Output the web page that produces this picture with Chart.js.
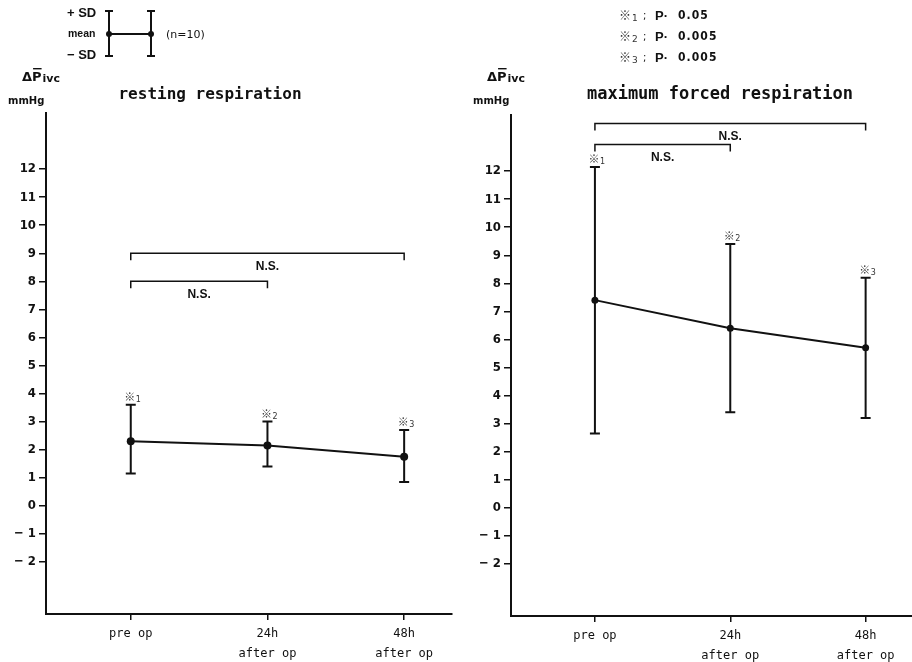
<!DOCTYPE html>
<html>
<head>
<meta charset="utf-8">
<script src="https://cdn.jsdelivr.net/npm/chart.js@4.4.0/dist/chart.umd.min.js"></script>
<style>
html, body { margin: 0; padding: 0; background: #fff; overflow: hidden; }
#wrap { position: relative; width: 912px; height: 662px; overflow: hidden; }
.pane { position: absolute; top: 0; height: 662px; }
</style>
</head>
<body>
<div id="wrap">
  <div class="pane" style="left:0;width:456px"><canvas id="rest"></canvas></div>
  <div class="pane" style="left:456px;width:461px"><canvas id="forced"></canvas></div>
</div>
<script>
// data (mmHg)
var timeLabels = [['pre op'], ['24h', 'after op'], ['48h', 'after op']];
var yTicks = [-2, -1, 0, 1, 2, 3, 4, 5, 6, 7, 8, 9, 10, 11, 12];
var restMean = [2.3, 2.15, 1.75];
var restUpper = [3.6, 3.0, 2.7];
var restLower = [1.15, 1.4, 0.85];
var forcedMean = [7.4, 6.4, 5.7];
var forcedUpper = [12.15, 9.4, 8.2];
var forcedLower = [2.65, 3.4, 3.2];
var sigMarks = ['1', '2', '3'];
var pLevels = ['0.05', '0.005', '0.005'];
var restBrackets = [{ from: 0, to: 2, level: 9, label: 'N.S.' }, { from: 0, to: 1, level: 8, label: 'N.S.' }];
var forcedBrackets = [{ from: 0, to: 2, level: 13.7, label: 'N.S.' }, { from: 0, to: 1, level: 12.95, label: 'N.S.' }];

var INK = '#111';
var NUMFONT = '"Liberation Sans Narrow", "DejaVu Sans Condensed", "Liberation Sans", sans-serif';
var MONO = '"DejaVu Sans Mono", "Liberation Mono", monospace';

function unitLabel(ctx, x, y) {
  ctx.font = 'bold 13px "DejaVu Sans", sans-serif';
  ctx.textAlign = 'left';
  ctx.textBaseline = 'middle';
  ctx.fillText('Δ', x, y);
  var w = ctx.measureText('Δ').width;
  ctx.fillText('P', x + w, y);
  var pw = ctx.measureText('P').width;
  ctx.fillRect(x + w + 1, y - 10, pw - 1, 1.4);
  ctx.font = 'bold 11px "DejaVu Sans", sans-serif';
  ctx.fillText('ivc', x + w + pw + 1, y + 1);
  ctx.font = 'bold 10px "DejaVu Sans", sans-serif';
  ctx.fillText('mmHg', x - 14, y + 23);
}

function sigMark(ctx, x, y, n, big) {
  ctx.fillStyle = '#333';
  ctx.font = (big ? 12 : 11) + 'px "Noto Sans CJK JP", sans-serif';
  ctx.textAlign = 'center';
  ctx.textBaseline = 'alphabetic';
  ctx.fillText('※', x, y);
  ctx.font = (big ? 9 : 8) + 'px "DejaVu Sans", sans-serif';
  ctx.textAlign = 'left';
  ctx.fillText(n, x + (big ? 7 : 6), y + 1);
}

var deco = {
  id: 'deco',
  beforeDatasetsDraw: function(chart, args, o) {
    var ctx = chart.ctx, xs = chart.scales.x, ys = chart.scales.y;
    ctx.save();
    ctx.strokeStyle = INK;
    ctx.lineWidth = 2;
    o.upper.forEach(function(u, i) {
      var x = xs.getPixelForValue(i);
      var yt = ys.getPixelForValue(u), yb = ys.getPixelForValue(o.lower[i]);
      ctx.beginPath();
      ctx.moveTo(x, yt); ctx.lineTo(x, yb);
      ctx.moveTo(x - 5, yt); ctx.lineTo(x + 5, yt);
      ctx.moveTo(x - 5, yb); ctx.lineTo(x + 5, yb);
      ctx.stroke();
      sigMark(ctx, x - 1, yt - 4, sigMarks[i], false);
    });
    ctx.lineWidth = 1.5;
    ctx.strokeStyle = INK;
    ctx.fillStyle = INK;
    o.brackets.forEach(function(b) {
      var x1 = xs.getPixelForValue(b.from), x2 = xs.getPixelForValue(b.to);
      var y = ys.getPixelForValue(b.level);
      ctx.beginPath();
      ctx.moveTo(x1, y + 7); ctx.lineTo(x1, y); ctx.lineTo(x2, y); ctx.lineTo(x2, y + 7);
      ctx.stroke();
      ctx.font = 'bold 12px "Liberation Sans", sans-serif';
      ctx.textAlign = 'center';
      ctx.textBaseline = 'middle';
      ctx.fillText(b.label, (x1 + x2) / 2, y + 13);
    });
    ctx.restore();
  },
  afterDraw: function(chart, args, o) {
    var ctx = chart.ctx, left = chart.chartArea.left;
    ctx.save();
    ctx.fillStyle = INK;
    ctx.font = 'bold ' + o.titleSize + 'px ' + MONO;
    ctx.textAlign = 'center';
    ctx.textBaseline = 'middle';
    ctx.fillText(o.title, o.titleX, 95);
    unitLabel(ctx, left - 24, 78);

    if (o.sdLegend) {
      ctx.font = 'bold 13px "Liberation Sans", sans-serif';
      ctx.textAlign = 'left';
      ctx.fillText('+ SD', 67, 13);
      ctx.fillText('− SD', 67, 55);
      ctx.font = 'bold 10.5px "Liberation Sans", sans-serif';
      ctx.fillText('mean', 68, 34);
      ctx.font = '11px "DejaVu Sans", sans-serif';
      ctx.fillText('(n=10)', 166, 35);
      ctx.strokeStyle = INK;
      ctx.lineWidth = 2;
      ctx.beginPath();
      [109, 151].forEach(function(x) {
        ctx.moveTo(x, 11); ctx.lineTo(x, 56);
        ctx.moveTo(x - 4, 11); ctx.lineTo(x + 4, 11);
        ctx.moveTo(x - 4, 56); ctx.lineTo(x + 4, 56);
      });
      ctx.moveTo(109, 34); ctx.lineTo(151, 34);
      ctx.stroke();
      [109, 151].forEach(function(x) {
        ctx.beginPath(); ctx.arc(x, 34, 3, 0, Math.PI * 2); ctx.fill();
      });
    }
    if (o.pLegend) {
      pLevels.forEach(function(p, i) {
        var y = 16 + i * 21;
        sigMark(ctx, 169, y + 4, sigMarks[i], true);
        ctx.fillStyle = INK;
        ctx.font = '10px "DejaVu Sans", sans-serif';
        ctx.textAlign = 'left';
        ctx.textBaseline = 'middle';
        ctx.fillText(';', 187, y);
        ctx.font = 'bold 13px "Liberation Sans", sans-serif';
        ctx.fillText('P·', 199, y);
        ctx.font = 'bold 12px ' + NUMFONT;
        ctx.fillText(p.split('').join(String.fromCharCode(8202)), 222, y);
      });
    }
    ctx.restore();
  }
};

function makeChart(id, mean, upper, lower, brackets, extra) {
  var ctx = document.getElementById(id).getContext('2d');
  return new Chart(ctx, {
    type: 'line',
    data: {
      datasets: [{
        data: mean.map(function(v, i) { return { x: i, y: v }; }),
        borderColor: INK,
        backgroundColor: INK,
        borderWidth: 2,
        pointRadius: extra.dot,
        pointBackgroundColor: INK,
        pointBorderWidth: 0,
        tension: 0
      }]
    },
    options: {
      responsive: true,
      maintainAspectRatio: false,
      animation: false,
      layout: { padding: { top: extra.top, right: extra.right, left: 0, bottom: 0 } },
      plugins: {
        legend: { display: false },
        tooltip: { enabled: false },
        deco: Object.assign({ upper: upper, lower: lower, brackets: brackets }, extra)
      },
      scales: {
        x: {
          type: 'linear',
          min: -0.62,
          max: 2.35,
          afterBuildTicks: function(s) { s.ticks = timeLabels.map(function(l, i) { return { value: i }; }); },
          afterFit: function(s) { s.height = 662 - extra.bottom; },
          ticks: {
            color: INK,
            padding: 4,
            font: { family: MONO, size: 12, lineHeight: 1.65 },
            callback: function(v) { return timeLabels[v]; }
          },
          grid: { drawOnChartArea: false, drawTicks: true, tickLength: 6, color: INK, lineWidth: 1.5 },
          border: { display: true, color: INK, width: 2 }
        },
        y: {
          min: -3.86,
          max: 14,
          afterBuildTicks: function(s) { s.ticks = yTicks.map(function(v) { return { value: v }; }); },
          afterFit: function(s) { s.width = extra.axisX; },
          ticks: {
            color: INK,
            padding: 3,
            font: { family: NUMFONT, size: 13, weight: 'bold' },
            callback: function(v) { return v < 0 ? '− ' + Math.abs(v) : String(v); }
          },
          grid: { drawOnChartArea: false, drawTicks: true, tickLength: 7, color: INK, lineWidth: 1.5 },
          border: { display: true, color: INK, width: 2 }
        }
      }
    },
    plugins: [deco]
  });
}

makeChart('rest', restMean, restUpper, restLower, restBrackets, {
  top: 113, bottom: 614, right: 4, axisX: 46, dot: 4,
  title: 'resting respiration', titleX: 210, titleSize: 16, sdLegend: true, pLegend: false
});
makeChart('forced', forcedMean, forcedUpper, forcedLower, forcedBrackets, {
  top: 115, bottom: 616, right: 0, axisX: 55, dot: 3.5,
  title: 'maximum forced respiration', titleX: 264, titleSize: 17, sdLegend: false, pLegend: true
});
</script>
</body>
</html>
